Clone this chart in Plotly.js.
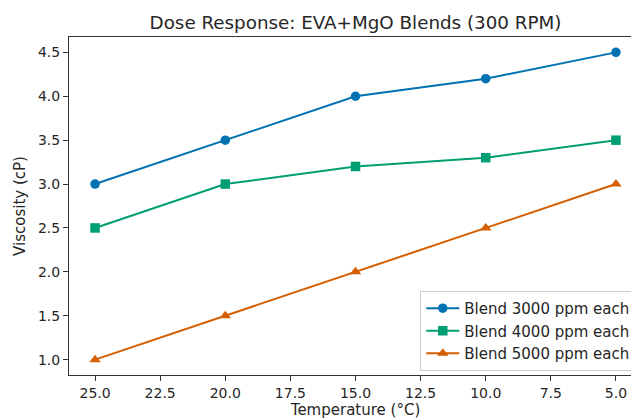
<!DOCTYPE html>
<html>
<head>
<meta charset="utf-8">
<script src="https://cdn.plot.ly/plotly-3.0.1.min.js"></script>
<style>
html, body { margin: 0; padding: 0; overflow: hidden; background: #fff; }
#chart { width: 652px; height: 419px; }
</style>
</head>
<body>
<div id="chart"></div>
<script>
const temperatures = [25, 20, 15, 10, 5];
const seriesNames = ["Blend 3000 ppm each", "Blend 4000 ppm each", "Blend 5000 ppm each"];
const blend3000 = [3.0, 3.5, 4.0, 4.2, 4.5];
const blend4000 = [2.5, 3.0, 3.2, 3.3, 3.5];
const blend5000 = [1.0, 1.5, 2.0, 2.5, 3.0];
const xTickVals = [25, 22.5, 20, 17.5, 15, 12.5, 10, 7.5, 5];
const yTickVals = [1.0, 1.5, 2.0, 2.5, 3.0, 3.5, 4.0, 4.5];

const colors = ["#0072B2", "#009E73", "#D55E00"];
const symbols = ["circle", "square", "triangle-up"];
const values = [blend3000, blend4000, blend5000];

const traces = values.map((v, i) => ({
  x: temperatures,
  y: v,
  name: seriesNames[i],
  type: "scatter",
  mode: "lines+markers",
  line: { color: colors[i], width: 2 },
  marker: { color: colors[i], symbol: symbols[i], size: i === 2 ? 10 : 9.5 }
}));

const font = { family: "DejaVu Sans, sans-serif", color: "#262626" };

const layout = {
  width: 652,
  height: 419,
  margin: { l: 69, r: 10, t: 37, b: 44 },
  paper_bgcolor: "#fff",
  plot_bgcolor: "#fff",
  font: Object.assign({ size: 14 }, font),
  title: {
    text: "Dose Response: EVA+MgO Blends (300 RPM)",
    font: Object.assign({ size: 18.3 }, font),
    x: 0.5, xref: "paper", xanchor: "center",
    y: 1, yref: "paper", yanchor: "bottom", pad: { b: 8 }
  },
  xaxis: {
    range: [26, 4],
    tickvals: xTickVals,
    tickformat: ".1f",
    ticks: "outside", ticklen: 5, tickwidth: 1, tickcolor: "#333",
    showline: true, linecolor: "#333", linewidth: 1, mirror: true,
    showgrid: false, zeroline: false,
    tickfont: Object.assign({ size: 14 }, font),
    title: { text: "Temperature (°C)", font: Object.assign({ size: 15 }, font), standoff: 4 }
  },
  yaxis: {
    range: [0.825, 4.675],
    tickvals: yTickVals,
    tickformat: ".1f",
    ticks: "outside", ticklen: 5, tickwidth: 1, tickcolor: "#333",
    showline: true, linecolor: "#333", linewidth: 1, mirror: true,
    showgrid: false, zeroline: false,
    tickfont: Object.assign({ size: 14 }, font),
    title: { text: "Viscosity (cP)", font: Object.assign({ size: 15 }, font), standoff: 8 }
  },
  legend: {
    x: 0.99, xanchor: "right",
    y: 0.012, yanchor: "bottom",
    bgcolor: "rgba(255,255,255,0.85)",
    bordercolor: "#ccc", borderwidth: 1,
    font: Object.assign({ size: 15 }, font),
    tracegroupgap: 0,
    itemwidth: 33
  },
  showlegend: true
};

Plotly.newPlot("chart", traces, layout, { displayModeBar: false, staticPlot: true });
</script>
</body>
</html>
